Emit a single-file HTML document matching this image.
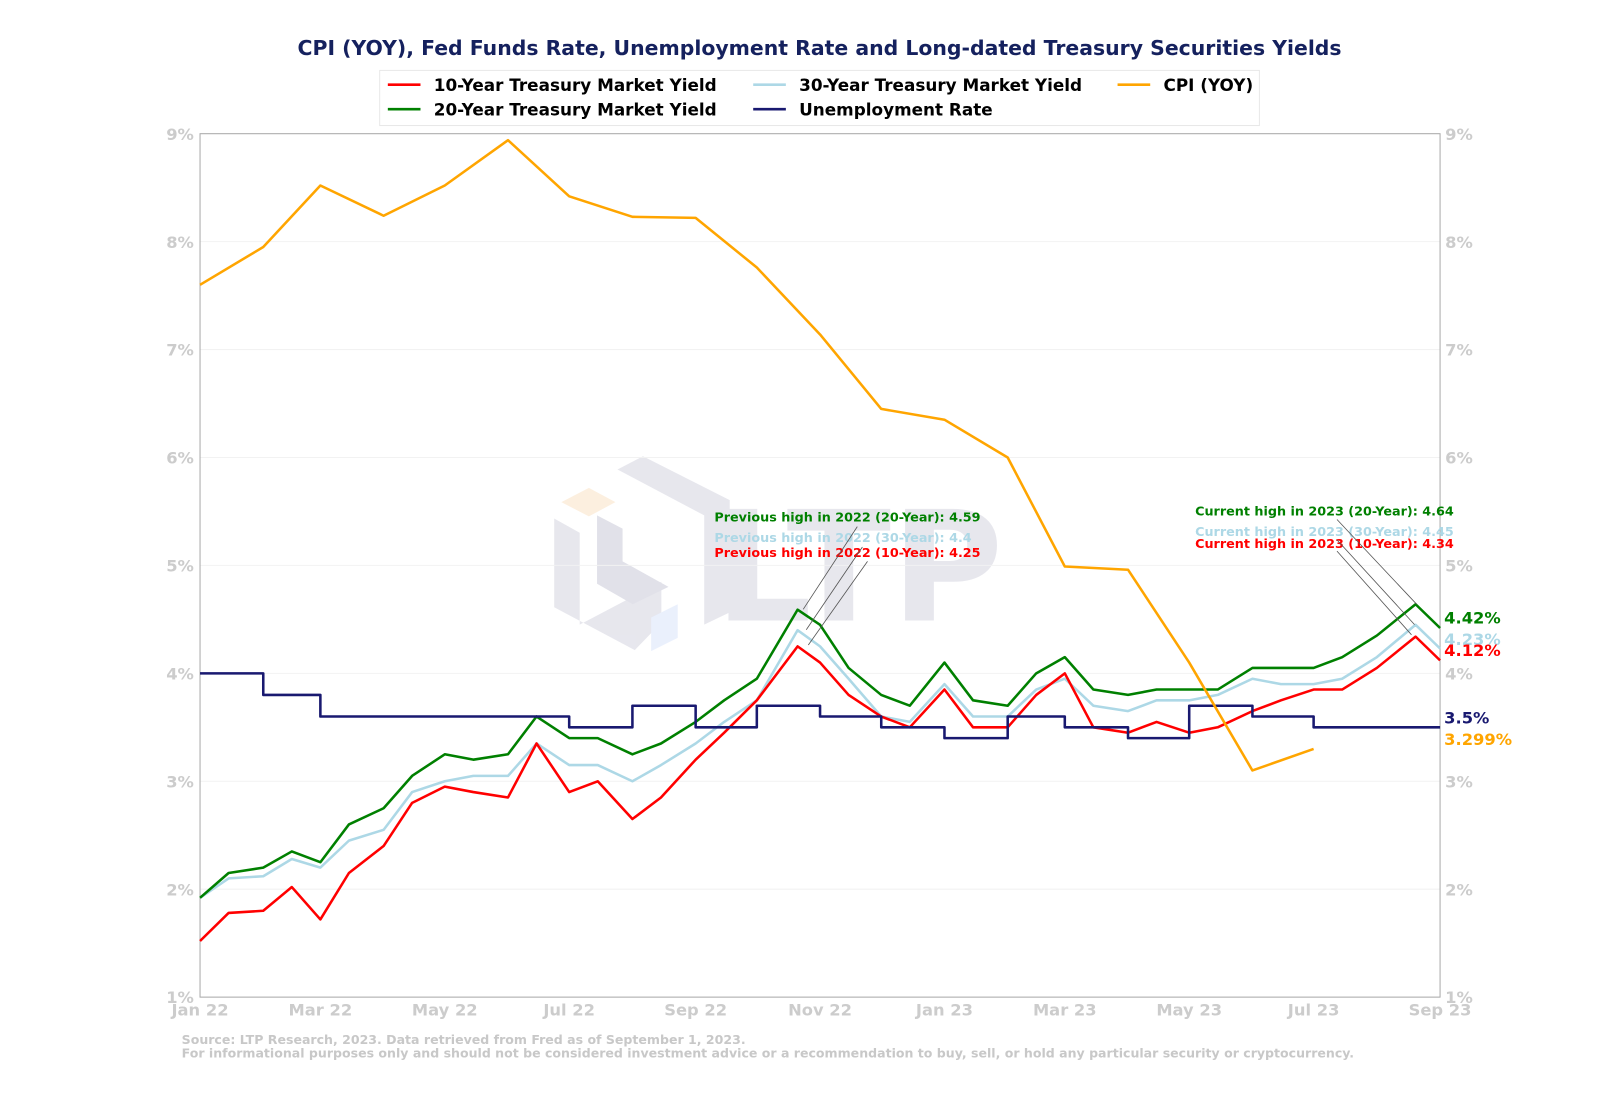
<!DOCTYPE html>
<html><head><meta charset="utf-8"><style>
html,body{margin:0;padding:0;width:1600px;height:1120px;overflow:hidden;background:#fff;font-family:"DejaVu Sans","Liberation Sans",sans-serif;}
svg{display:block;}
</style></head><body>
<svg id="chart" width="1600" height="1120" viewBox="0 0 1600 1120" xmlns="http://www.w3.org/2000/svg">
<g transform="scale(1.0206)">
<text x="803" y="54" text-anchor="middle" font-size="20" font-weight="bold" fill="#15215e">CPI (YOY), Fed Funds Rate, Unemployment Rate and Long-dated Treasury Securities Yields</text>
<g opacity="0.55">
<polygon points="605,460 630,447 715,490 715,600 690,612 690,505" fill="#d4d4e0"/>
<polygon points="543,508 568,522 568,612 648,570 648,610 622,637 543,595" fill="#d4d4e0"/>
<polygon points="585,505 610,518 610,550 655,575 620,592 585,572" fill="#c9c9d8"/>
<polygon points="550,492 577,478 603,492 577,506" fill="#fbe3c6"/>
<polygon points="638,605 664,592 664,625 638,638" fill="#d9e4fb"/>
<text x="700" y="608" font-size="150" font-weight="bold" fill="#d4d4e0">LTP</text>
</g>
<g id="grid"></g>
<rect x="196" y="131" width="1215" height="846" fill="none" stroke="#aaa" stroke-width="1"/>
<g id="axes"></g>
<g id="series"></g>
<g>
<rect x="372" y="69" width="862" height="54" fill="#fff" stroke="#e8e8e8"/>
<line x1="380" y1="83" x2="412" y2="83" stroke="red" stroke-width="2.5"/><text x="425" y="89" font-size="16.5" font-weight="bold">10-Year Treasury Market Yield</text>
<line x1="380" y1="107" x2="412" y2="107" stroke="green" stroke-width="2.5"/><text x="425" y="113" font-size="16.5" font-weight="bold">20-Year Treasury Market Yield</text>
<line x1="738" y1="83" x2="770" y2="83" stroke="#add8e6" stroke-width="2.5"/><text x="783" y="89" font-size="16.5" font-weight="bold">30-Year Treasury Market Yield</text>
<line x1="738" y1="107" x2="770" y2="107" stroke="#191970" stroke-width="2.5"/><text x="783" y="113" font-size="16.5" font-weight="bold">Unemployment Rate</text>
<line x1="1095" y1="83" x2="1127" y2="83" stroke="orange" stroke-width="2.5"/><text x="1140" y="89" font-size="16.5" font-weight="bold">CPI (YOY)</text>
</g>
<g font-size="12.5" font-weight="bold">
<text x="700" y="511" fill="green">Previous high in 2022 (20-Year): 4.59</text>
<text x="700" y="531" fill="#add8e6">Previous high in 2022 (30-Year): 4.4</text>
<text x="700" y="546" fill="red">Previous high in 2022 (10-Year): 4.25</text>
<text x="1171" y="505" fill="green">Current high in 2023 (20-Year): 4.64</text>
<text x="1171" y="525" fill="#add8e6">Current high in 2023 (30-Year): 4.45</text>
<text x="1171" y="537" fill="red">Current high in 2023 (10-Year): 4.34</text>
<g stroke="#555" stroke-width="0.8"><line x1="840" y1="516" x2="787" y2="597"/><line x1="845" y1="536" x2="790" y2="617"/><line x1="850" y1="550" x2="792" y2="632"/>
<line x1="1310" y1="509" x2="1388" y2="592"/><line x1="1310" y1="529" x2="1386" y2="612"/><line x1="1310" y1="540" x2="1383" y2="622"/></g>
</g>
<g font-size="16" font-weight="bold">
<text x="1415" y="611" fill="green">4.42%</text>
<text x="1415" y="632" fill="#add8e6">4.23%</text>
<text x="1415" y="643" fill="red">4.12%</text>
<text x="1415" y="709" fill="#191970">3.5%</text>
<text x="1415" y="730" fill="orange">3.299%</text>
</g>
<g font-size="12.3" font-weight="bold" fill="#c8c8c8">
<text x="178" y="1023">Source: LTP Research, 2023. Data retrieved from Fred as of September 1, 2023.</text>
<text x="178" y="1036">For informational purposes only and should not be considered investment advice or a recommendation to buy, sell, or hold any particular security or cryptocurrency.</text>
</g>
</g>
</svg>
<script>
const yTicks=[1,2,3,4,5,6,7,8,9];
const xTickLabels=["Jan 22","Mar 22","May 22","Jul 22","Sep 22","Nov 22","Jan 23","Mar 23","May 23","Jul 23","Sep 23"];
const xTickDates=["2022-01-01","2022-03-01","2022-05-01","2022-07-01","2022-09-01","2022-11-01","2023-01-01","2023-03-01","2023-05-01","2023-07-01","2023-09-01"];
const cpiDates=["2022-01-01","2022-02-01","2022-03-01","2022-04-01","2022-05-01","2022-06-01","2022-07-01","2022-08-01","2022-09-01","2022-10-01","2022-11-01","2022-12-01","2023-01-01","2023-02-01","2023-03-01","2023-04-01","2023-05-01","2023-06-01","2023-07-01"];
const cpiValues=[7.6,7.95,8.52,8.24,8.52,8.94,8.42,8.23,8.22,7.76,7.14,6.45,6.35,6.0,4.99,4.96,4.1,3.1,3.3];
const unempDates=["2022-01-01","2022-02-01","2022-03-01","2022-04-01","2022-05-01","2022-06-01","2022-07-01","2022-08-01","2022-09-01","2022-10-01","2022-11-01","2022-12-01","2023-01-01","2023-02-01","2023-03-01","2023-04-01","2023-05-01","2023-06-01","2023-07-01","2023-08-01","2023-09-01"];
const unempValues=[4.0,3.8,3.6,3.6,3.6,3.6,3.5,3.7,3.5,3.7,3.6,3.5,3.4,3.6,3.5,3.4,3.7,3.6,3.5,3.5,3.5];
const yieldDates=["2022-01-01","2022-01-15","2022-02-01","2022-02-15","2022-03-01","2022-03-15","2022-04-01","2022-04-15","2022-05-01","2022-05-15","2022-06-01","2022-06-15","2022-07-01","2022-07-15","2022-08-01","2022-08-15","2022-09-01","2022-09-15","2022-10-01","2022-10-21","2022-11-01","2022-11-15","2022-12-01","2022-12-15","2023-01-01","2023-01-15","2023-02-01","2023-02-15","2023-03-01","2023-03-15","2023-04-01","2023-04-15","2023-05-01","2023-05-15","2023-06-01","2023-06-15","2023-07-01","2023-07-15","2023-08-01","2023-08-20","2023-09-01"];
const y10=[1.52,1.78,1.80,2.02,1.72,2.15,2.40,2.80,2.95,2.90,2.85,3.35,2.90,3.00,2.65,2.85,3.20,3.45,3.75,4.25,4.10,3.80,3.60,3.50,3.85,3.50,3.50,3.80,4.00,3.50,3.45,3.55,3.45,3.50,3.65,3.75,3.85,3.85,4.05,4.34,4.12];
const y20=[1.92,2.15,2.20,2.35,2.25,2.60,2.75,3.05,3.25,3.20,3.25,3.60,3.40,3.40,3.25,3.35,3.55,3.75,3.95,4.59,4.45,4.05,3.80,3.70,4.10,3.75,3.70,4.00,4.15,3.85,3.80,3.85,3.85,3.85,4.05,4.05,4.05,4.15,4.35,4.64,4.42];
const y30=[1.92,2.10,2.12,2.28,2.20,2.45,2.55,2.90,3.00,3.05,3.05,3.35,3.15,3.15,3.00,3.15,3.35,3.55,3.75,4.40,4.25,3.95,3.60,3.55,3.90,3.60,3.60,3.85,3.95,3.70,3.65,3.75,3.75,3.80,3.95,3.90,3.90,3.95,4.15,4.45,4.23];
const NS="http://www.w3.org/2000/svg";
const t0=Date.UTC(2022,0,1),t1=Date.UTC(2023,8,1);
function xs(d){const p=d.split("-").map(Number);const t=Date.UTC(p[0],p[1]-1,p[2]);return 196+(t-t0)/(t1-t0)*1215;}
function ys(v){return 977-(v-1)/8*846;}
function mk(tag,parent){const e=document.createElementNS(NS,tag);document.getElementById(parent).appendChild(e);return e;}
yTicks.forEach(v=>{
 const l=mk("line","grid");l.setAttribute("x1",196);l.setAttribute("x2",1411);l.setAttribute("y1",ys(v));l.setAttribute("y2",ys(v));l.setAttribute("stroke","#f2f2f2");
 
 
 [[190,"end"],[1416,"start"]].forEach(([x,a])=>{const t=mk("text","axes");t.setAttribute("x",x);t.setAttribute("y",ys(v)+6);t.setAttribute("text-anchor",a);t.setAttribute("font-size","16");t.setAttribute("font-weight","bold");t.setAttribute("fill","#cccccc");t.textContent=v+"%";
 
 });
});
xTickLabels.forEach((s,i)=>{const t=mk("text","axes");t.setAttribute("x",xs(xTickDates[i]));t.setAttribute("y",995);t.setAttribute("text-anchor","middle");t.setAttribute("font-size","16");t.setAttribute("font-weight","bold");t.setAttribute("fill","#cccccc");t.textContent=s;
 
 });
function line(dates,vals,color,name,step){
 let d="";dates.forEach((dt,i)=>{const x=xs(dt),y=ys(vals[i]);if(i===0)d="M"+x+","+y;else{if(step)d+=" H"+x+" V"+y;else d+=" L"+x+","+y;}});
 const p=mk("path","series");p.setAttribute("d",d);p.setAttribute("fill","none");p.setAttribute("stroke",color);p.setAttribute("stroke-width","2.5");p.setAttribute("stroke-linejoin","round");
 
 
}
line(yieldDates,y30,"#add8e6","line-30y",false);
line(yieldDates,y20,"green","line-20y",false);
line(yieldDates,y10,"red","line-10y",false);
line(unempDates,unempValues,"#191970","line-unemployment",true);
line(cpiDates,cpiValues,"orange","line-cpi",false);
</script>
</body></html>
